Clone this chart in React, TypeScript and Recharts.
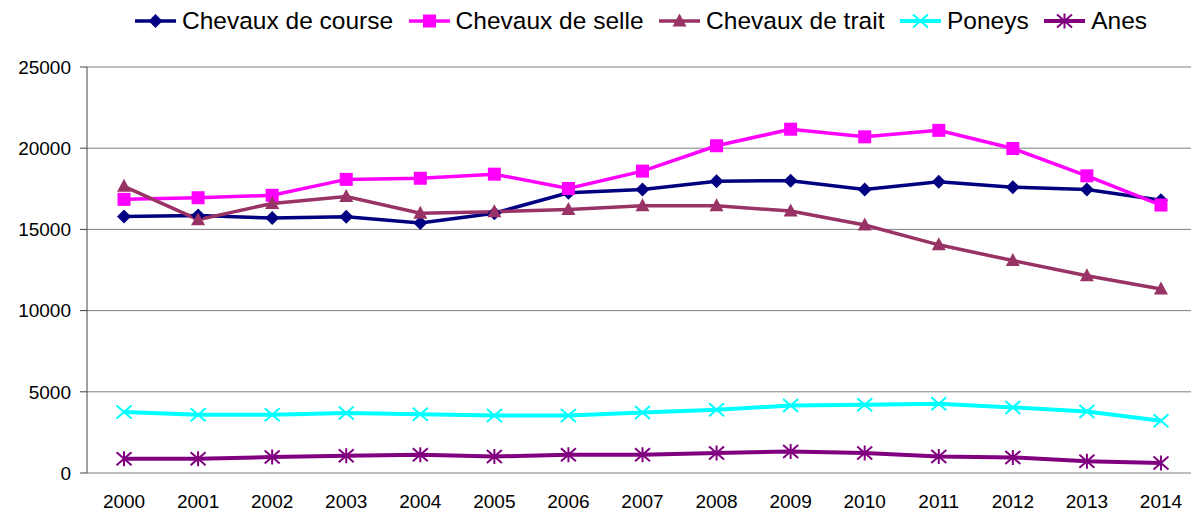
import React from 'react';
import { LineChart, Line, XAxis, YAxis, CartesianGrid, Legend } from 'recharts';

const years = ['2000', '2001', '2002', '2003', '2004', '2005', '2006', '2007', '2008', '2009', '2010', '2011', '2012', '2013', '2014'];
const course = [15800, 15850, 15700, 15780, 15400, 16000, 17250, 17450, 17970, 18000, 17460, 17930, 17600, 17460, 16800];
const selle = [16850, 16950, 17100, 18080, 18150, 18400, 17520, 18590, 20150, 21170, 20700, 21100, 19980, 18300, 16500];
const trait = [17650, 15600, 16600, 17020, 15990, 16090, 16230, 16450, 16450, 16130, 15270, 14050, 13080, 12150, 11330];
const poneys = [3750, 3590, 3590, 3690, 3620, 3540, 3540, 3730, 3890, 4160, 4200, 4260, 4040, 3790, 3220];
const anes = [880, 880, 980, 1060, 1120, 1020, 1120, 1120, 1230, 1330, 1230, 1020, 960, 720, 620];
const yTicks = [0, 5000, 10000, 15000, 20000, 25000];

const data = years.map((y, i) => ({
  idx: i,
  year: y,
  course: course[i],
  selle: selle[i],
  trait: trait[i],
  poneys: poneys[i],
  anes: anes[i],
}));

const labelTicks = years.map((_, i) => i);
const boundaryTicks = years.map((_, i) => i - 0.5).concat([years.length - 0.5]);

const series = [
  { key: 'course', name: 'Chevaux de course', color: '#000080', shape: 'diamond', width: 3.5 },
  { key: 'selle', name: 'Chevaux de selle', color: '#FF00FF', shape: 'square', width: 3.5 },
  { key: 'trait', name: 'Chevaux de trait', color: '#993366', shape: 'triangle', width: 3.5 },
  { key: 'poneys', name: 'Poneys', color: '#00FFFF', shape: 'x', width: 4 },
  { key: 'anes', name: 'Anes', color: '#800080', shape: 'star', width: 4 },
];

const FONT = '"Liberation Sans", Arial, sans-serif';

function Marker({ cx, cy, shape, color }: { cx: number; cy: number; shape: string; color: string }) {
  if (cx == null || cy == null) return <g />;
  switch (shape) {
    case 'diamond':
      return <polygon points={`${cx},${cy - 7} ${cx + 7},${cy} ${cx},${cy + 7} ${cx - 7},${cy}`} fill={color} />;
    case 'square':
      return <rect x={cx - 6.5} y={cy - 6.5} width={13} height={13} fill={color} />;
    case 'triangle':
      return <polygon points={`${cx},${cy - 7.5} ${cx + 7},${cy + 5.5} ${cx - 7},${cy + 5.5}`} fill={color} />;
    case 'x':
      return (
        <path
          d={`M${cx - 7.5},${cy - 6.5} L${cx + 7.5},${cy + 6.5} M${cx + 7.5},${cy - 6.5} L${cx - 7.5},${cy + 6.5}`}
          stroke={color}
          strokeWidth={2}
          fill="none"
        />
      );
    case 'star':
      return (
        <path
          d={`M${cx - 7.5},${cy - 6.5} L${cx + 7.5},${cy + 6.5} M${cx + 7.5},${cy - 6.5} L${cx - 7.5},${cy + 6.5} M${cx},${cy - 7.5} L${cx},${cy + 7.5}`}
          stroke={color}
          strokeWidth={2}
          fill="none"
        />
      );
    default:
      return <g />;
  }
}

function renderLegend() {
  return (
    <div
      style={{
        display: 'flex',
        alignItems: 'center',
        height: 42,
        paddingLeft: 135,
        fontFamily: FONT,
        fontSize: 24.5,
        color: '#000',
        whiteSpace: 'nowrap',
        boxSizing: 'border-box',
      }}
    >
      {series.map((s) => (
        <div key={s.key} style={{ display: 'flex', alignItems: 'center', marginRight: 15.5 }}>
          <svg width={41} height={20} style={{ display: 'block' }}>
            <line x1={0} y1={10} x2={41} y2={10} stroke={s.color} strokeWidth={s.width} />
            <Marker cx={20.5} cy={10} shape={s.shape} color={s.color} />
          </svg>
          <span style={{ marginLeft: 6 }}>{s.name}</span>
        </div>
      ))}
    </div>
  );
}

export default function App() {
  return (
    <div
      style={{
        position: 'fixed',
        left: 0,
        top: 0,
        width: 1191,
        height: 511,
        overflow: 'hidden',
        background: '#fff',
      }}
    >
      <LineChart width={1200} height={511} data={data} margin={{ top: 25, right: 2, bottom: 0, left: 0 }}>
        <Legend
          verticalAlign="top"
          content={renderLegend}
          wrapperStyle={{ top: 0, left: 0, width: 1191, height: 42 }}
        />
        <CartesianGrid horizontal={true} vertical={false} stroke="#808080" strokeWidth={1} />
        <XAxis
          xAxisId="marks"
          type="number"
          dataKey="idx"
          domain={[-0.5, years.length - 0.5]}
          ticks={boundaryTicks}
          tickFormatter={() => ''}
          tickSize={6}
          height={0}
          axisLine={{ stroke: '#555' }}
          tickLine={{ stroke: '#555' }}
          interval={0}
          allowDecimals={true}
        />
        <XAxis
          xAxisId={0}
          type="number"
          dataKey="idx"
          domain={[-0.5, years.length - 0.5]}
          ticks={labelTicks}
          tickFormatter={(v: number) => years[v] ?? ''}
          axisLine={false}
          tickLine={false}
          tickSize={0}
          tickMargin={22}
          height={38}
          interval={0}
          tick={{ fill: '#000', fontSize: 19, fontFamily: FONT }}
        />
        <YAxis
          type="number"
          domain={[0, 25000]}
          ticks={yTicks}
          width={87}
          tickSize={7}
          tickMargin={9}
          interval={0}
          axisLine={{ stroke: '#444' }}
          tickLine={{ stroke: '#444' }}
          tick={{ fill: '#000', fontSize: 19, fontFamily: FONT }}
        />
        {series.map((s) => (
          <Line
            key={s.key}
            type="linear"
            dataKey={s.key}
            name={s.name}
            stroke={s.color}
            strokeWidth={s.width}
            isAnimationActive={false}
            activeDot={false}
            dot={(p: any) => (
              <Marker key={`${s.key}-${p.index}`} cx={p.cx} cy={p.cy} shape={s.shape} color={s.color} />
            )}
          />
        ))}
      </LineChart>
    </div>
  );
}
